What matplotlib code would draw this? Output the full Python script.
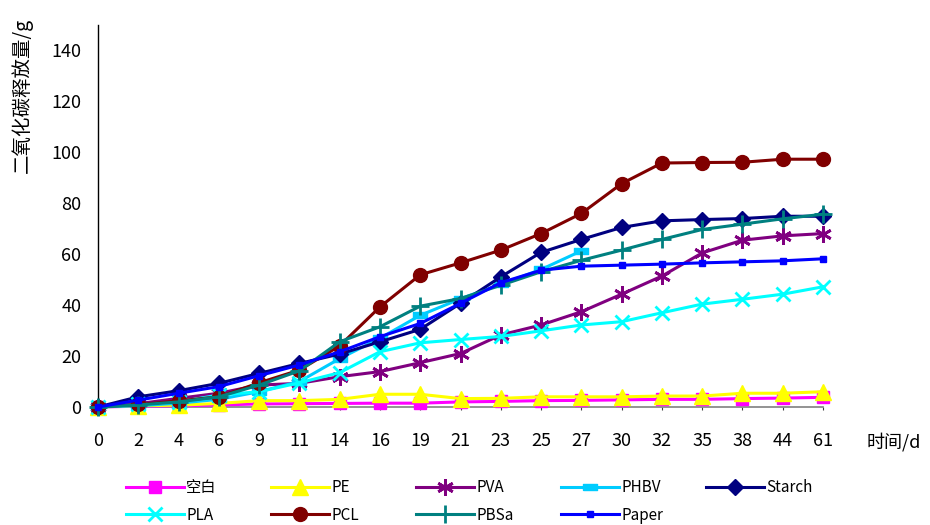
import numpy as np
import matplotlib
matplotlib.use("Agg")
import matplotlib.pyplot as plt

plt.rcParams['font.family'] = ['Noto Sans CJK SC', 'DejaVu Sans']

days = ['0', '2', '4', '6', '9', '11', '14', '16', '19', '21', '23', '25', '27',
        '30', '32', '35', '38', '44', '61']

blank = [0, 0.3, 0.5, 0.8, 1.2, 1.3, 1.4, 1.5, 1.5, 2.0, 2.2, 2.5, 2.6, 2.8, 3.0, 3.0, 3.3, 3.5, 3.8]
pe = [0, 0.5, 0.7, 1.4, 2.5, 2.5, 3.0, 5.0, 5.0, 3.3, 3.4, 4.0, 4.0, 4.0, 4.3, 4.3, 5.4, 5.4, 6.0]
pva = [0, 1.3, 3.4, 5.4, 8.6, 9.3, 11.9, 13.9, 17.4, 21.0, 28.3, 32.2, 37.4, 44.3, 51.4, 60.5, 65.5, 67.2, 68.1]
phbv = [0, 0.5, 1.5, 3.0, 6.0, 10.0, 19.0, 27.0, 36.0, 42.5, 48.2, 54.0, 61.3]
starch = [0, 4.0, 6.4, 9.3, 13.2, 17.1, 20.8, 25.6, 30.5, 40.7, 51.1, 60.7, 65.8, 70.5, 73.1, 73.6, 74.0, 74.9, 74.9]
pla = [0, 1.0, 2.0, 4.7, 6.0, 9.5, 13.5, 21.7, 25.2, 26.5, 27.7, 29.9, 32.2, 33.5, 37.0, 40.4, 42.3, 44.3, 47.2]
pcl = [0, 1.0, 2.4, 4.0, 9.5, 14.5, 24.0, 39.3, 51.9, 56.6, 61.6, 68.1, 76.0, 87.7, 95.8, 96.0, 96.1, 97.3, 97.3]
pbsa = [0, 0.8, 2.0, 4.0, 8.6, 14.2, 25.6, 31.5, 39.6, 42.6, 47.8, 53.1, 57.6, 61.6, 65.8, 69.7, 71.8, 73.9, 75.7]
paper = [0, 2.7, 5.4, 8.0, 12.3, 16.5, 21.7, 27.6, 32.8, 40.7, 48.8, 53.7, 55.3, 55.7, 56.1, 56.6, 57.0, 57.4, 58.2]

# Excel-like "dash" marker for PHBV
dash = [(-1, -0.45), (1, -0.45), (1, 0.45), (-1, 0.45), (-1, -0.45)]

series = [
    ('空白', blank, '#FF00FF', dict(marker='s', ms=8)),
    ('PE', pe, '#FFFF00', dict(marker='^', ms=11)),
    ('PVA', pva, '#800080', dict(marker=(6, 2, 0), ms=12, mew=2)),
    ('PHBV', phbv, '#00CCFF', dict(marker=dash, ms=10)),
    ('Starch', starch, '#000080', dict(marker='D', ms=8)),
    ('PLA', pla, '#00FFFF', dict(marker='x', ms=10, mew=2)),
    ('PCL', pcl, '#800000', dict(marker='o', ms=10)),
    ('PBSa', pbsa, '#008080', dict(marker='+', ms=13, mew=2)),
    ('Paper', paper, '#0000FF', dict(marker='s', ms=4)),
]

fig = plt.figure(figsize=(9.3, 5.25), dpi=100)
ax = fig.add_axes([98 / 930, 1 - 407 / 525, 725 / 930, 382 / 525])

handles = {}
for i, (name, vals, col, mk) in enumerate(series):
    x = np.arange(len(vals))
    ln, = ax.plot(x, vals, color=col, lw=2.2, mfc=col, mec=col, zorder=3 + i,
                  label=name, clip_on=False, **mk)
    handles[name] = ln

ax.set_xlim(0, len(days) - 1)
ax.set_ylim(0, 150)
ax.set_xticks(np.arange(len(days)))
ax.set_xticklabels(days)
ax.set_yticks(np.arange(0, 141, 20))

for s in ['top', 'right']:
    ax.spines[s].set_visible(False)
ax.spines['bottom'].set_color('#808080')
ax.spines['bottom'].set_linewidth(1.2)
ax.spines['left'].set_color('black')
ax.spines['left'].set_linewidth(1.0)
ax.tick_params(axis='x', length=2, color='#404040', pad=16, labelsize=13)
ax.tick_params(axis='y', length=0, pad=12, labelsize=13)

ax.text(1.06, -0.092, '时间/d', transform=ax.transAxes, fontsize=13, va='center', ha='left')
fig.text(22 / 930, 1 - 95 / 525, '二氧化碳释放量/g', rotation=90, fontsize=14,
         va='center', ha='center')

# legend: one small legend per column, two rows
columns = [['空白', 'PLA'], ['PE', 'PCL'], ['PVA', 'PBSa'], ['PHBV', 'Paper'], ['Starch']]
for j, names in enumerate(columns):
    fig.legend([handles[n] for n in names], names,
               loc='upper left', bbox_to_anchor=((126 + 145 * j) / 930, 1 - 479 / 525),
               frameon=False, fontsize=11, handlelength=3.8, handletextpad=0.15,
               labelspacing=0.7, borderpad=0, borderaxespad=0)

fig.savefig('out.png', dpi=100)
